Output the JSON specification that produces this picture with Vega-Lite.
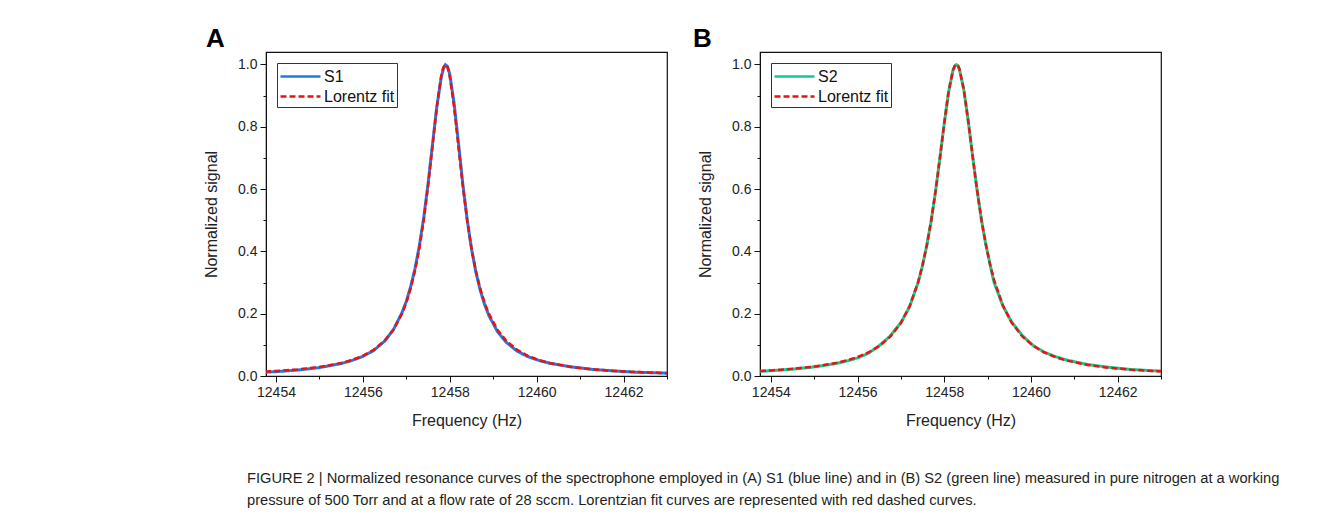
{
  "$schema": "https://vega.github.io/schema/vega-lite/v6.json",
  "background": "white",
  "padding": {"left": 202, "top": 25, "right": 0, "bottom": 0},
  "autosize": {"type": "pad"},
  "bounds": "flush",
  "spacing": 93,
  "config": {
    "view": {"stroke": "#111", "strokeWidth": 1.2},
    "font": "Liberation Sans",
    "axis": {
      "grid": false,
      "domainColor": "#111",
      "tickColor": "#111",
      "labelFont": "Liberation Sans",
      "labelFontSize": 14,
      "labelColor": "#222",
      "titleFont": "Liberation Sans",
      "titleFontSize": 16,
      "titleFontWeight": "normal",
      "titleColor": "#222",
      "labelOverlap": false,
      "labelFlush": false,
      "labelPadding": 3
    },
    "legend": {
      "labelFont": "Liberation Sans",
      "labelFontSize": 16,
      "labelColor": "#111"
    }
  },
  "title": {
    "text": [
      "FIGURE 2 | Normalized resonance curves of the spectrophone employed in (A) S1 (blue line) and in (B) S2 (green line) measured in pure nitrogen at a working",
      "pressure of 500 Torr and at a flow rate of 28 sccm. Lorentzian fit curves are represented with red dashed curves."
    ],
    "orient": "bottom",
    "anchor": "start",
    "frame": "group",
    "font": "Liberation Sans",
    "fontSize": 14.7,
    "fontWeight": "normal",
    "color": "#231f20",
    "lineHeight": 22,
    "offset": 42,
    "dx": -19
  },
  "datasets": {
    "a": [
      {"freq": 12453.75, "signal": 0.012, "series": "S1"},
      {"freq": 12454.0, "signal": 0.014, "series": "S1"},
      {"freq": 12454.5, "signal": 0.019, "series": "S1"},
      {"freq": 12455.0, "signal": 0.027, "series": "S1"},
      {"freq": 12455.5, "signal": 0.040, "series": "S1"},
      {"freq": 12455.75, "signal": 0.050, "series": "S1"},
      {"freq": 12456.0, "signal": 0.063, "series": "S1"},
      {"freq": 12456.25, "signal": 0.082, "series": "S1"},
      {"freq": 12456.5, "signal": 0.112, "series": "S1"},
      {"freq": 12456.7, "signal": 0.148, "series": "S1"},
      {"freq": 12456.9, "signal": 0.203, "series": "S1"},
      {"freq": 12457.0, "signal": 0.240, "series": "S1"},
      {"freq": 12457.1, "signal": 0.287, "series": "S1"},
      {"freq": 12457.2, "signal": 0.345, "series": "S1"},
      {"freq": 12457.3, "signal": 0.418, "series": "S1"},
      {"freq": 12457.4, "signal": 0.508, "series": "S1"},
      {"freq": 12457.5, "signal": 0.617, "series": "S1"},
      {"freq": 12457.6, "signal": 0.740, "series": "S1"},
      {"freq": 12457.7, "signal": 0.862, "series": "S1"},
      {"freq": 12457.8, "signal": 0.955, "series": "S1"},
      {"freq": 12457.85, "signal": 0.985, "series": "S1"},
      {"freq": 12457.9, "signal": 0.999, "series": "S1"},
      {"freq": 12457.95, "signal": 0.993, "series": "S1"},
      {"freq": 12458.0, "signal": 0.968, "series": "S1"},
      {"freq": 12458.1, "signal": 0.875, "series": "S1"},
      {"freq": 12458.2, "signal": 0.748, "series": "S1"},
      {"freq": 12458.3, "signal": 0.617, "series": "S1"},
      {"freq": 12458.4, "signal": 0.503, "series": "S1"},
      {"freq": 12458.5, "signal": 0.408, "series": "S1"},
      {"freq": 12458.6, "signal": 0.334, "series": "S1"},
      {"freq": 12458.7, "signal": 0.276, "series": "S1"},
      {"freq": 12458.8, "signal": 0.230, "series": "S1"},
      {"freq": 12458.9, "signal": 0.194, "series": "S1"},
      {"freq": 12459.1, "signal": 0.142, "series": "S1"},
      {"freq": 12459.3, "signal": 0.108, "series": "S1"},
      {"freq": 12459.55, "signal": 0.080, "series": "S1"},
      {"freq": 12459.8, "signal": 0.062, "series": "S1"},
      {"freq": 12460.05, "signal": 0.050, "series": "S1"},
      {"freq": 12460.3, "signal": 0.041, "series": "S1"},
      {"freq": 12460.8, "signal": 0.029, "series": "S1"},
      {"freq": 12461.3, "signal": 0.021, "series": "S1"},
      {"freq": 12461.8, "signal": 0.016, "series": "S1"},
      {"freq": 12462.3, "signal": 0.012, "series": "S1"},
      {"freq": 12462.8, "signal": 0.010, "series": "S1"},
      {"freq": 12463.0, "signal": 0.009, "series": "S1"},
      {"freq": 12453.75, "signal": 0.0143, "series": "Lorentz fit"},
      {"freq": 12454.0, "signal": 0.0162, "series": "Lorentz fit"},
      {"freq": 12454.5, "signal": 0.0212, "series": "Lorentz fit"},
      {"freq": 12455.0, "signal": 0.0289, "series": "Lorentz fit"},
      {"freq": 12455.5, "signal": 0.0416, "series": "Lorentz fit"},
      {"freq": 12455.75, "signal": 0.0513, "series": "Lorentz fit"},
      {"freq": 12456.0, "signal": 0.0648, "series": "Lorentz fit"},
      {"freq": 12456.25, "signal": 0.0841, "series": "Lorentz fit"},
      {"freq": 12456.5, "signal": 0.1131, "series": "Lorentz fit"},
      {"freq": 12456.7, "signal": 0.1479, "series": "Lorentz fit"},
      {"freq": 12456.9, "signal": 0.2, "series": "Lorentz fit"},
      {"freq": 12457.0, "signal": 0.2358, "series": "Lorentz fit"},
      {"freq": 12457.1, "signal": 0.2809, "series": "Lorentz fit"},
      {"freq": 12457.2, "signal": 0.3378, "series": "Lorentz fit"},
      {"freq": 12457.3, "signal": 0.4098, "series": "Lorentz fit"},
      {"freq": 12457.4, "signal": 0.5, "series": "Lorentz fit"},
      {"freq": 12457.5, "signal": 0.6098, "series": "Lorentz fit"},
      {"freq": 12457.6, "signal": 0.7353, "series": "Lorentz fit"},
      {"freq": 12457.7, "signal": 0.8621, "series": "Lorentz fit"},
      {"freq": 12457.8, "signal": 0.9615, "series": "Lorentz fit"},
      {"freq": 12457.85, "signal": 0.9901, "series": "Lorentz fit"},
      {"freq": 12457.9, "signal": 1.0, "series": "Lorentz fit"},
      {"freq": 12457.95, "signal": 0.9901, "series": "Lorentz fit"},
      {"freq": 12458.0, "signal": 0.9615, "series": "Lorentz fit"},
      {"freq": 12458.1, "signal": 0.8621, "series": "Lorentz fit"},
      {"freq": 12458.2, "signal": 0.7353, "series": "Lorentz fit"},
      {"freq": 12458.3, "signal": 0.6098, "series": "Lorentz fit"},
      {"freq": 12458.4, "signal": 0.5, "series": "Lorentz fit"},
      {"freq": 12458.5, "signal": 0.4098, "series": "Lorentz fit"},
      {"freq": 12458.6, "signal": 0.3378, "series": "Lorentz fit"},
      {"freq": 12458.7, "signal": 0.2809, "series": "Lorentz fit"},
      {"freq": 12458.8, "signal": 0.2358, "series": "Lorentz fit"},
      {"freq": 12458.9, "signal": 0.2, "series": "Lorentz fit"},
      {"freq": 12459.1, "signal": 0.1479, "series": "Lorentz fit"},
      {"freq": 12459.3, "signal": 0.1131, "series": "Lorentz fit"},
      {"freq": 12459.55, "signal": 0.0841, "series": "Lorentz fit"},
      {"freq": 12459.8, "signal": 0.0648, "series": "Lorentz fit"},
      {"freq": 12460.05, "signal": 0.0513, "series": "Lorentz fit"},
      {"freq": 12460.3, "signal": 0.0416, "series": "Lorentz fit"},
      {"freq": 12460.8, "signal": 0.0289, "series": "Lorentz fit"},
      {"freq": 12461.3, "signal": 0.0212, "series": "Lorentz fit"},
      {"freq": 12461.8, "signal": 0.0162, "series": "Lorentz fit"},
      {"freq": 12462.3, "signal": 0.0128, "series": "Lorentz fit"},
      {"freq": 12462.8, "signal": 0.0103, "series": "Lorentz fit"},
      {"freq": 12463.0, "signal": 0.0095, "series": "Lorentz fit"}
    ],
    "b": [
      {"freq": 12453.75, "signal": 0.015, "series": "S2"},
      {"freq": 12454.0, "signal": 0.017, "series": "S2"},
      {"freq": 12454.5, "signal": 0.022, "series": "S2"},
      {"freq": 12455.0, "signal": 0.029, "series": "S2"},
      {"freq": 12455.5, "signal": 0.040, "series": "S2"},
      {"freq": 12455.75, "signal": 0.048, "series": "S2"},
      {"freq": 12456.0, "signal": 0.058, "series": "S2"},
      {"freq": 12456.25, "signal": 0.073, "series": "S2"},
      {"freq": 12456.5, "signal": 0.097, "series": "S2"},
      {"freq": 12456.75, "signal": 0.128, "series": "S2"},
      {"freq": 12457.0, "signal": 0.171, "series": "S2"},
      {"freq": 12457.2, "signal": 0.222, "series": "S2"},
      {"freq": 12457.4, "signal": 0.301, "series": "S2"},
      {"freq": 12457.5, "signal": 0.355, "series": "S2"},
      {"freq": 12457.6, "signal": 0.421, "series": "S2"},
      {"freq": 12457.7, "signal": 0.499, "series": "S2"},
      {"freq": 12457.8, "signal": 0.593, "series": "S2"},
      {"freq": 12457.9, "signal": 0.700, "series": "S2"},
      {"freq": 12458.0, "signal": 0.810, "series": "S2"},
      {"freq": 12458.1, "signal": 0.911, "series": "S2"},
      {"freq": 12458.2, "signal": 0.980, "series": "S2"},
      {"freq": 12458.24, "signal": 0.994, "series": "S2"},
      {"freq": 12458.28, "signal": 0.999, "series": "S2"},
      {"freq": 12458.32, "signal": 0.995, "series": "S2"},
      {"freq": 12458.35, "signal": 0.984, "series": "S2"},
      {"freq": 12458.45, "signal": 0.920, "series": "S2"},
      {"freq": 12458.55, "signal": 0.822, "series": "S2"},
      {"freq": 12458.65, "signal": 0.711, "series": "S2"},
      {"freq": 12458.75, "signal": 0.604, "series": "S2"},
      {"freq": 12458.86, "signal": 0.500, "series": "S2"},
      {"freq": 12458.95, "signal": 0.429, "series": "S2"},
      {"freq": 12459.05, "signal": 0.362, "series": "S2"},
      {"freq": 12459.15, "signal": 0.300, "series": "S2"},
      {"freq": 12459.35, "signal": 0.226, "series": "S2"},
      {"freq": 12459.55, "signal": 0.174, "series": "S2"},
      {"freq": 12459.8, "signal": 0.130, "series": "S2"},
      {"freq": 12460.05, "signal": 0.098, "series": "S2"},
      {"freq": 12460.3, "signal": 0.077, "series": "S2"},
      {"freq": 12460.55, "signal": 0.063, "series": "S2"},
      {"freq": 12460.8, "signal": 0.052, "series": "S2"},
      {"freq": 12461.3, "signal": 0.037, "series": "S2"},
      {"freq": 12461.8, "signal": 0.028, "series": "S2"},
      {"freq": 12462.3, "signal": 0.021, "series": "S2"},
      {"freq": 12462.8, "signal": 0.017, "series": "S2"},
      {"freq": 12463.0, "signal": 0.016, "series": "S2"},
      {"freq": 12453.75, "signal": 0.0161, "series": "Lorentz fit"},
      {"freq": 12454.0, "signal": 0.0180, "series": "Lorentz fit"},
      {"freq": 12454.5, "signal": 0.0230, "series": "Lorentz fit"},
      {"freq": 12455.0, "signal": 0.0303, "series": "Lorentz fit"},
      {"freq": 12455.5, "signal": 0.0417, "series": "Lorentz fit"},
      {"freq": 12455.75, "signal": 0.0499, "series": "Lorentz fit"},
      {"freq": 12456.0, "signal": 0.0608, "series": "Lorentz fit"},
      {"freq": 12456.25, "signal": 0.0755, "series": "Lorentz fit"},
      {"freq": 12456.5, "signal": 0.0960, "series": "Lorentz fit"},
      {"freq": 12456.75, "signal": 0.1257, "series": "Lorentz fit"},
      {"freq": 12457.0, "signal": 0.1704, "series": "Lorentz fit"},
      {"freq": 12457.2, "signal": 0.2238, "series": "Lorentz fit"},
      {"freq": 12457.4, "signal": 0.3028, "series": "Lorentz fit"},
      {"freq": 12457.5, "signal": 0.3561, "series": "Lorentz fit"},
      {"freq": 12457.6, "signal": 0.4211, "series": "Lorentz fit"},
      {"freq": 12457.7, "signal": 0.5, "series": "Lorentz fit"},
      {"freq": 12457.8, "signal": 0.5935, "series": "Lorentz fit"},
      {"freq": 12457.9, "signal": 0.6997, "series": "Lorentz fit"},
      {"freq": 12458.0, "signal": 0.8110, "series": "Lorentz fit"},
      {"freq": 12458.1, "signal": 0.9121, "series": "Lorentz fit"},
      {"freq": 12458.2, "signal": 0.9813, "series": "Lorentz fit"},
      {"freq": 12458.24, "signal": 0.9953, "series": "Lorentz fit"},
      {"freq": 12458.28, "signal": 1.0, "series": "Lorentz fit"},
      {"freq": 12458.32, "signal": 0.9953, "series": "Lorentz fit"},
      {"freq": 12458.35, "signal": 0.9856, "series": "Lorentz fit"},
      {"freq": 12458.45, "signal": 0.9209, "series": "Lorentz fit"},
      {"freq": 12458.55, "signal": 0.8219, "series": "Lorentz fit"},
      {"freq": 12458.65, "signal": 0.7108, "series": "Lorentz fit"},
      {"freq": 12458.75, "signal": 0.6036, "series": "Lorentz fit"},
      {"freq": 12458.86, "signal": 0.5, "series": "Lorentz fit"},
      {"freq": 12458.95, "signal": 0.4284, "series": "Lorentz fit"},
      {"freq": 12459.05, "signal": 0.3620, "series": "Lorentz fit"},
      {"freq": 12459.15, "signal": 0.3077, "series": "Lorentz fit"},
      {"freq": 12459.35, "signal": 0.2271, "series": "Lorentz fit"},
      {"freq": 12459.55, "signal": 0.1726, "series": "Lorentz fit"},
      {"freq": 12459.8, "signal": 0.1271, "series": "Lorentz fit"},
      {"freq": 12460.05, "signal": 0.0970, "series": "Lorentz fit"},
      {"freq": 12460.3, "signal": 0.0762, "series": "Lorentz fit"},
      {"freq": 12460.55, "signal": 0.0613, "series": "Lorentz fit"},
      {"freq": 12460.8, "signal": 0.0503, "series": "Lorentz fit"},
      {"freq": 12461.3, "signal": 0.0356, "series": "Lorentz fit"},
      {"freq": 12461.8, "signal": 0.0264, "series": "Lorentz fit"},
      {"freq": 12462.3, "signal": 0.0204, "series": "Lorentz fit"},
      {"freq": 12462.8, "signal": 0.0162, "series": "Lorentz fit"},
      {"freq": 12463.0, "signal": 0.0149, "series": "Lorentz fit"}
    ]
  },
  "resolve": {"scale": {"color": "independent", "strokeDash": "independent"}, "legend": {"color": "independent", "strokeDash": "independent"}},
  "hconcat": [
    {
      "width": 401,
      "height": 324,
      "data": {"name": "a"},
      "title": {"text": "A", "anchor": "start", "frame": "group", "fontSize": 26, "fontWeight": "bold", "font": "Liberation Sans", "color": "#000", "dx": -60, "offset": 0},
      "encoding": {
        "x": {"field": "freq", "type": "quantitative", "title": "Frequency (Hz)",
          "scale": {"domain": [12453.77, 12463.0], "nice": false, "zero": false},
          "axis": {"values": [12454, 12455, 12456, 12457, 12458, 12459, 12460, 12461, 12462, 12463], "format": "d",
            "labelExpr": "datum.value % 2 == 0 ? datum.label : ''",
            "tickSize": {"condition": {"test": "datum.value % 2 == 0", "value": 6}, "value": 3},
            "titlePadding": 13}},
        "y": {"field": "signal", "type": "quantitative", "title": "Normalized signal",
          "scale": {"domain": [0, 1.04], "nice": false},
          "axis": {"values": [0, 0.1, 0.2, 0.3, 0.4, 0.5, 0.6, 0.7, 0.8, 0.9, 1.0],
            "labelExpr": "round(datum.value * 10) % 2 == 0 ? format(datum.value, '.1f') : ''",
            "tickSize": {"condition": {"test": "round(datum.value * 10) % 2 == 0", "value": 6}, "value": 3},
            "titlePadding": 18}},
        "color": {"field": "series", "type": "nominal",
          "scale": {"domain": ["S1", "Lorentz fit"], "range": ["#2279e3", "#f01010"]},
          "legend": {"title": null, "orient": "none", "legendX": 11, "legendY": 11, "strokeColor": "#333", "padding": 2, "rowPadding": 0,
            "symbolType": "M-1,0H3", "symbolSize": 400, "symbolStrokeWidth": 2.5, "labelOffset": 22, "fillColor": "white"}},
        "strokeDash": {"field": "series", "type": "nominal",
          "scale": {"domain": ["S1", "Lorentz fit"], "range": [[1, 0], [6, 3]]},
          "legend": {"title": null, "orient": "none", "legendX": 11, "legendY": 11, "strokeColor": "#333", "padding": 2, "rowPadding": 0,
            "symbolType": "M-1,0H3", "symbolSize": 400, "symbolStrokeWidth": 2.5, "labelOffset": 22, "fillColor": "white"}}
      },
      "layer": [
        {"transform": [{"filter": "datum.series === 'S1'"}], "mark": {"type": "line", "strokeWidth": 3, "clip": true}},
        {"transform": [{"filter": "datum.series === 'Lorentz fit'"}], "mark": {"type": "line", "strokeWidth": 2.5, "clip": true}}
      ]
    },
    {
      "width": 401,
      "height": 324,
      "data": {"name": "b"},
      "title": {"text": "B", "anchor": "start", "frame": "group", "fontSize": 26, "fontWeight": "bold", "font": "Liberation Sans", "color": "#000", "dx": -67, "offset": 0},
      "encoding": {
        "x": {"field": "freq", "type": "quantitative", "title": "Frequency (Hz)",
          "scale": {"domain": [12453.75, 12463.0], "nice": false, "zero": false},
          "axis": {"values": [12454, 12455, 12456, 12457, 12458, 12459, 12460, 12461, 12462, 12463], "format": "d",
            "labelExpr": "datum.value % 2 == 0 ? datum.label : ''",
            "tickSize": {"condition": {"test": "datum.value % 2 == 0", "value": 6}, "value": 3},
            "titlePadding": 13}},
        "y": {"field": "signal", "type": "quantitative", "title": "Normalized signal",
          "scale": {"domain": [0, 1.04], "nice": false},
          "axis": {"values": [0, 0.1, 0.2, 0.3, 0.4, 0.5, 0.6, 0.7, 0.8, 0.9, 1.0],
            "labelExpr": "round(datum.value * 10) % 2 == 0 ? format(datum.value, '.1f') : ''",
            "tickSize": {"condition": {"test": "round(datum.value * 10) % 2 == 0", "value": 6}, "value": 3},
            "titlePadding": 18}},
        "color": {"field": "series", "type": "nominal",
          "scale": {"domain": ["S2", "Lorentz fit"], "range": ["#10cc8a", "#f01010"]},
          "legend": {"title": null, "orient": "none", "legendX": 11, "legendY": 11, "strokeColor": "#333", "padding": 2, "rowPadding": 0,
            "symbolType": "M-1,0H3", "symbolSize": 400, "symbolStrokeWidth": 2.5, "labelOffset": 22, "fillColor": "white"}},
        "strokeDash": {"field": "series", "type": "nominal",
          "scale": {"domain": ["S2", "Lorentz fit"], "range": [[1, 0], [6, 3]]},
          "legend": {"title": null, "orient": "none", "legendX": 11, "legendY": 11, "strokeColor": "#333", "padding": 2, "rowPadding": 0,
            "symbolType": "M-1,0H3", "symbolSize": 400, "symbolStrokeWidth": 2.5, "labelOffset": 22, "fillColor": "white"}}
      },
      "layer": [
        {"transform": [{"filter": "datum.series === 'S2'"}], "mark": {"type": "line", "strokeWidth": 3, "clip": true}},
        {"transform": [{"filter": "datum.series === 'Lorentz fit'"}], "mark": {"type": "line", "strokeWidth": 2.5, "clip": true}}
      ]
    }
  ]
}
